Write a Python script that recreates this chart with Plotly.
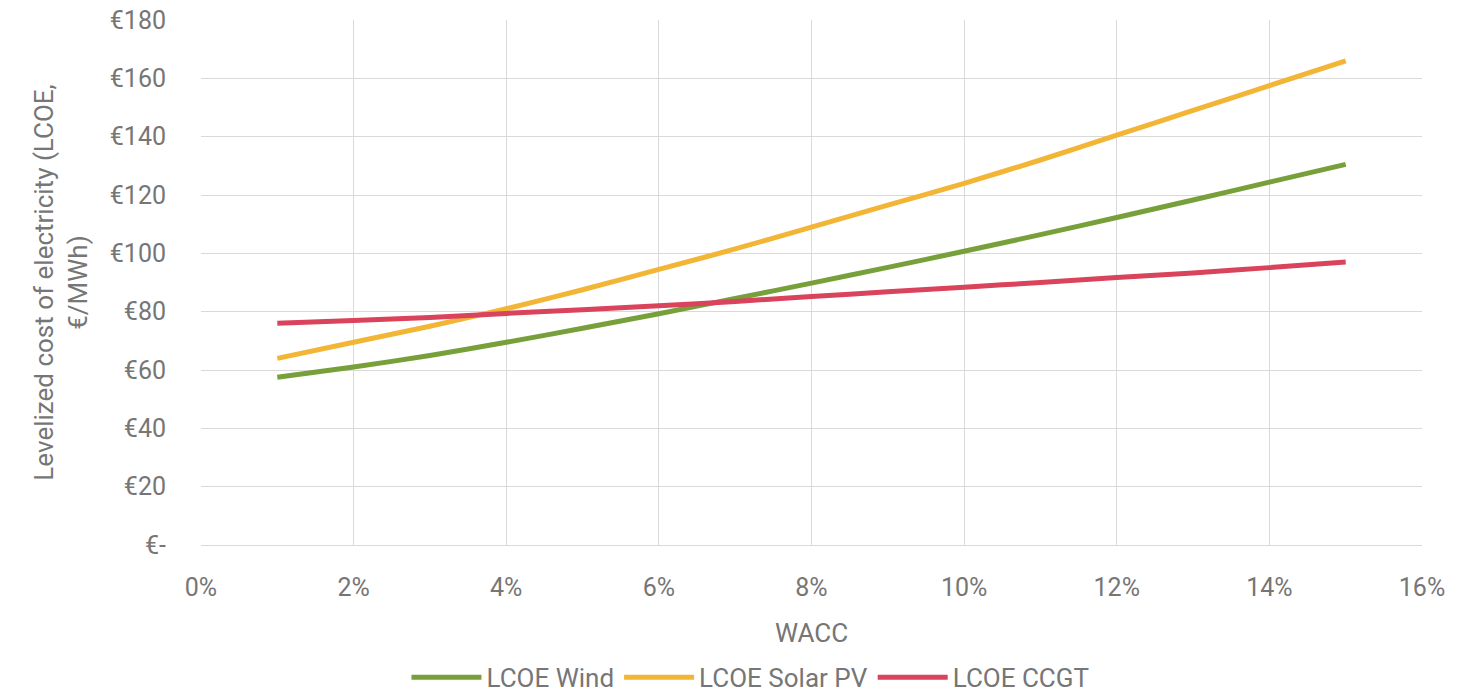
import plotly.graph_objects as go

# WACC (%) and levelized cost of electricity (EUR/MWh) per technology
wacc = [0.01, 0.02, 0.03, 0.04, 0.05, 0.06, 0.07, 0.08, 0.09, 0.10, 0.11, 0.12, 0.13, 0.14, 0.15]
lcoe_wind = [57.5, 61, 65, 69.5, 74.3, 79.3, 84.5, 89.8, 95.2, 100.7, 106.4, 112.3, 118.3, 124.4, 130.5]
lcoe_solar = [64, 69.5, 75, 81, 87.5, 94.5, 101.5, 109, 116.5, 124, 132, 140.5, 149, 157.5, 166]
lcoe_ccgt = [76, 77, 78, 79.4, 80.7, 82, 83.5, 85.2, 86.8, 88.4, 90, 91.7, 93.3, 95.1, 97]

y_ticks = [0, 20, 40, 60, 80, 100, 120, 140, 160, 180]
y_tick_labels = ["€-", "€20", "€40", "€60", "€80", "€100", "€120", "€140", "€160", "€180"]
x_ticks = [0, 0.02, 0.04, 0.06, 0.08, 0.10, 0.12, 0.14, 0.16]

series = [
    ("LCOE Wind", lcoe_wind, "#77A03A"),
    ("LCOE Solar PV", lcoe_solar, "#F2B535"),
    ("LCOE CCGT", lcoe_ccgt, "#D9435C"),
]

text_color = "#767676"
grid_color = "#D9D9D9"
font_family = "Roboto, Arial, sans-serif"

fig = go.Figure()
for name, vals, color in series:
    fig.add_trace(go.Scatter(
        x=wacc, y=vals, mode="lines", name=name,
        line=dict(color=color, width=5, shape="spline", smoothing=0.6),
    ))

fig.update_layout(
    width=1458, height=692,
    margin=dict(l=201, r=36, t=20, b=147, autoexpand=False),
    paper_bgcolor="white", plot_bgcolor="white",
    font=dict(family=font_family, color=text_color, size=24),
    showlegend=True,
    legend=dict(
        orientation="h", x=0.45, xanchor="center", y=-0.252, yanchor="middle",
        font=dict(size=26, color=text_color), itemwidth=70, tracegroupgap=0,
    ),
    xaxis=dict(
        range=[0, 0.16], tickvals=x_ticks, tickformat=".0%",
        showgrid=True, gridcolor=grid_color, gridwidth=1,
        showline=True, linecolor=grid_color, zeroline=False,
        ticks="", ticklen=0, ticklabelstandoff=20,
        tickfont=dict(size=25, color=text_color),
        title=dict(text="WACC", font=dict(size=26, color=text_color), standoff=22),
    ),
    yaxis=dict(
        range=[0, 180], tickvals=y_ticks, ticktext=y_tick_labels,
        showgrid=True, gridcolor=grid_color, gridwidth=1,
        showline=False, zeroline=False,
        ticks="", ticklabelstandoff=34,
        tickfont=dict(size=25, color=text_color),
        title=dict(text="Levelized cost of electricity (LCOE,<br>€/MWh)",
                   font=dict(size=26, color=text_color), standoff=14),
    ),
)

fig.write_html("out.html")
